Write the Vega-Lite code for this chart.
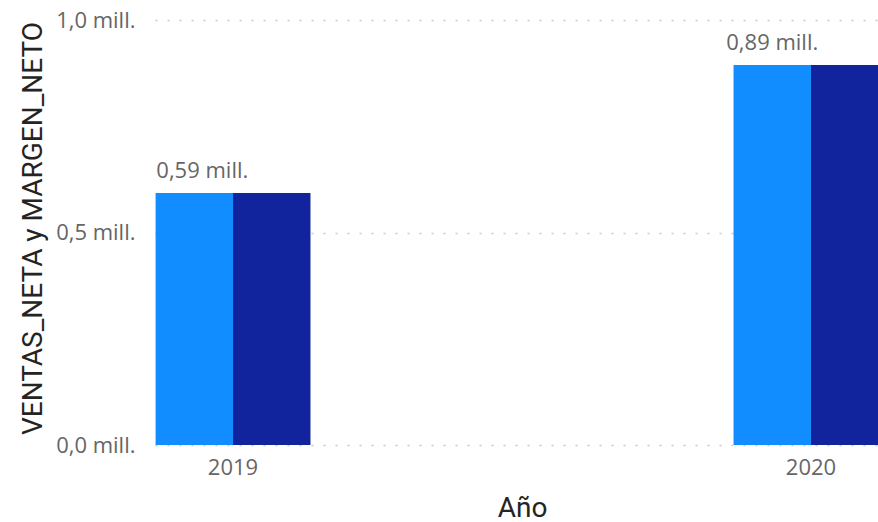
{
  "$schema": "https://vega.github.io/schema/vega-lite/v6.json",
  "autosize": "none",
  "width": 723,
  "height": 425,
  "padding": {"left": 155, "top": 20, "right": 0, "bottom": 77},
  "background": "white",
  "config": {"view": {"stroke": null}},
  "data": {"values": [
    {"year": "2019", "serie": "VENTAS_NETA", "valor": 593000},
    {"year": "2019", "serie": "MARGEN_NETO", "valor": 593000},
    {"year": "2020", "serie": "VENTAS_NETA", "valor": 894000},
    {"year": "2020", "serie": "MARGEN_NETO", "valor": 894000}
  ]},
  "encoding": {
    "x": {
      "field": "year", "type": "nominal",
      "scale": {"type": "band", "domain": ["2019", "2020"], "range": [0, 734], "paddingInner": 0.732, "paddingOuter": 0.001},
      "axis": {
        "title": "Año", "domain": false, "ticks": false, "grid": false, "labelAngle": 0,
        "labelFont": "Open Sans", "labelFontSize": 22, "labelColor": "#666666", "labelPadding": 12,
        "titleFont": "Roboto", "titleFontSize": 28, "titleColor": "#252423", "titleFontWeight": "normal", "titlePadding": 16
      }
    },
    "y": {
      "field": "valor", "type": "quantitative",
      "scale": {"domain": [0, 1000000], "nice": false},
      "axis": {
        "values": [0, 500000, 1000000],
        "labelExpr": "replace(format(datum.value / 1000000, '.1f'), '.', ',') + ' mill.'",
        "domain": false, "ticks": false,
        "grid": true, "gridColor": "#c8c8c8", "gridDash": [2, 10], "gridWidth": 1.5,
        "labelFont": "Open Sans", "labelFontSize": 22, "labelColor": "#666666", "labelPadding": 20,
        "title": "VENTAS_NETA y MARGEN_NETO", "titleFont": "Roboto", "titleFontSize": 28, "titleColor": "#252423", "titleFontWeight": "normal",
        "titleX": -122, "titleY": 208, "titleAngle": -90, "titleAlign": "center", "titleBaseline": "middle"
      }
    },
    "xOffset": {"field": "serie", "type": "nominal", "sort": ["VENTAS_NETA", "MARGEN_NETO"], "scale": {"paddingInner": 0, "paddingOuter": 0}}
  },
  "layer": [
    {
      "mark": {"type": "bar", "clip": true},
      "encoding": {
        "color": {"field": "serie", "type": "nominal", "sort": ["VENTAS_NETA", "MARGEN_NETO"],
          "scale": {"domain": ["VENTAS_NETA", "MARGEN_NETO"], "range": ["#118DFF", "#12239E"]}, "legend": null}
      }
    },
    {
      "transform": [
        {"filter": "datum.serie === 'VENTAS_NETA' && datum.year === '2019'"},
        {"calculate": "replace(format(datum.valor / 1000000, '.2f'), '.', ',') + ' mill.'", "as": "etiqueta"}
      ],
      "mark": {"type": "text", "font": "Open Sans", "fontSize": 22, "color": "#666666", "baseline": "alphabetic", "dy": -15, "dx": 8},
      "encoding": {"text": {"field": "etiqueta", "type": "nominal"}}
    },
    {
      "transform": [
        {"filter": "datum.serie === 'VENTAS_NETA' && datum.year === '2020'"},
        {"calculate": "replace(format(datum.valor / 1000000, '.2f'), '.', ',') + ' mill.'", "as": "etiqueta"}
      ],
      "mark": {"type": "text", "font": "Open Sans", "fontSize": 22, "color": "#666666", "baseline": "alphabetic", "dy": -15},
      "encoding": {"text": {"field": "etiqueta", "type": "nominal"}}
    }
  ]
}
